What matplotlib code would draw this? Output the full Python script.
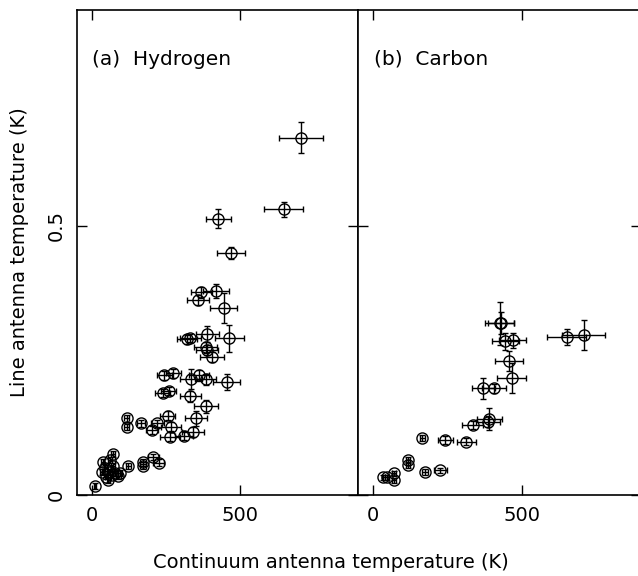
import matplotlib
matplotlib.use("Agg")
import matplotlib.pyplot as plt

# (a) Hydrogen : continuum T (K), line T (K), errors
h_x = [706, 648, 427, 470, 419, 370, 358, 445, 390, 464,
       320, 332, 384, 388, 405, 245, 275, 336, 361, 384,
       455, 239, 260, 332, 385, 256, 351, 118, 118, 167,
       220, 203, 268, 341, 312, 264, 207, 226, 174, 174,
       123, 71, 62, 37, 34, 56, 62, 79, 95, 48,
       67, 10, 45, 72, 89]
h_y = [0.663, 0.530, 0.513, 0.449, 0.379, 0.376, 0.362, 0.347, 0.299, 0.291,
       0.289, 0.291, 0.274, 0.269, 0.256, 0.222, 0.226, 0.215, 0.222, 0.215,
       0.209, 0.189, 0.193, 0.183, 0.165, 0.147, 0.142, 0.142, 0.126, 0.133,
       0.133, 0.121, 0.127, 0.117, 0.110, 0.108, 0.071, 0.060, 0.062, 0.053,
       0.054, 0.076, 0.065, 0.062, 0.043, 0.028, 0.043, 0.040, 0.041, 0.034,
       0.037, 0.017, 0.050, 0.054, 0.035]
h_xerr = [73, 66, 43, 48, 43, 37, 37, 46, 40, 48,
          34, 35, 39, 38, 40, 24, 25, 37, 34, 35,
          45, 25, 25, 35, 39, 25, 36, 8, 8, 13,
          22, 20, 34, 36, 30, 33, 18, 18, 10, 10,
          8, 6, 6, 5, 5, 6, 6, 8, 8, 5,
          6, 4, 5, 6, 8]
h_yerr = [0.029, 0.014, 0.018, 0.011, 0.013, 0.010, 0.010, 0.027, 0.015, 0.025,
          0.008, 0.008, 0.010, 0.010, 0.010, 0.008, 0.008, 0.019, 0.010, 0.010,
          0.015, 0.008, 0.008, 0.010, 0.012, 0.008, 0.014, 0.006, 0.006, 0.006,
          0.007, 0.007, 0.008, 0.010, 0.008, 0.008, 0.006, 0.006, 0.005, 0.005,
          0.005, 0.005, 0.005, 0.005, 0.005, 0.005, 0.005, 0.005, 0.005, 0.005,
          0.005, 0.005, 0.005, 0.005, 0.005]

# (b) Carbon
c_x = [706, 649, 424, 429, 443, 468, 455, 465, 370, 405,
       390, 384, 334, 242, 312, 166, 118, 118, 175, 225,
       35, 71, 71, 48]
c_y = [0.297, 0.293, 0.319, 0.319, 0.285, 0.287, 0.249, 0.217, 0.198, 0.198,
       0.141, 0.136, 0.130, 0.102, 0.099, 0.106, 0.065, 0.056, 0.043, 0.046,
       0.033, 0.040, 0.027, 0.033]
c_xerr = [71, 66, 48, 45, 45, 46, 47, 49, 38, 41,
          42, 40, 34, 25, 32, 7, 6, 6, 10, 22,
          6, 6, 6, 6]
c_yerr = [0.027, 0.015, 0.040, 0.020, 0.015, 0.014, 0.019, 0.028, 0.020, 0.008,
          0.020, 0.010, 0.008, 0.008, 0.006, 0.006, 0.005, 0.005, 0.005, 0.005,
          0.005, 0.005, 0.005, 0.005]

panels = ["(a)  Hydrogen", "(b)  Carbon"]

plt.rcParams['font.family'] = 'DejaVu Sans'
plt.rcParams['font.size'] = 14

fig = plt.figure(figsize=(6.38, 5.76), dpi=100)
axL = fig.add_axes([77/638, 81/576, 281/638, 485/576])
axR = fig.add_axes([358/638, 81/576, 283/638, 485/576])

for ax, x, y, xe, ye, name in [(axL, h_x, h_y, h_xerr, h_yerr, panels[0]),
                               (axR, c_x, c_y, c_xerr, c_yerr, panels[1])]:
    ax.errorbar(x, y, xerr=xe, yerr=ye, fmt='o', ms=8, mfc='none', mec='k',
                mew=1.0, ecolor='k', elinewidth=1.0, capsize=2.5, capthick=1.0)
    ax.set_xlim(-50, 898)
    ax.set_ylim(0, 0.90)
    ax.set_xticks([0, 500])
    ax.set_yticks([0, 0.5])
    ax.tick_params(direction='in', length=7, width=1.0, top=True, right=True,
                   pad=8)
    for s in ax.spines.values():
        s.set_linewidth(1.2)
    ax.text(0.055, 0.887, name, transform=ax.transAxes, ha='left', va='baseline',
            fontsize=14.5)

axL.set_yticklabels(['0', '0.5'], rotation=90, va='center')
axR.set_yticklabels([])

fig.text(20/638, 1 - 252/576, 'Line antenna temperature (K)', rotation=90,
         ha='center', va='center', fontsize=14)
fig.text(331/638, 1 - 563/576, 'Continuum antenna temperature (K)',
         ha='center', va='center', fontsize=14)

fig.savefig('out.png', dpi=100)
